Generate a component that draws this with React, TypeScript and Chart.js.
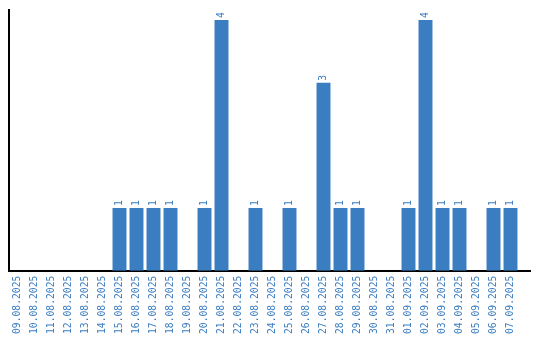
import React, { useEffect, useRef } from "react";
import { Chart, registerables } from "chart.js";

Chart.register(...registerables);

const categories = [
  "09.08.2025", "10.08.2025", "11.08.2025", "12.08.2025", "13.08.2025", "14.08.2025",
  "15.08.2025", "16.08.2025", "17.08.2025", "18.08.2025", "19.08.2025", "20.08.2025",
  "21.08.2025", "22.08.2025", "23.08.2025", "24.08.2025", "25.08.2025", "26.08.2025",
  "27.08.2025", "28.08.2025", "29.08.2025", "30.08.2025", "31.08.2025", "01.09.2025",
  "02.09.2025", "03.09.2025", "04.09.2025", "05.09.2025", "06.09.2025", "07.09.2025",
];
const values = [
  0, 0, 0, 0, 0, 0,
  1, 1, 1, 1, 0, 1,
  4, 0, 1, 0, 1, 0,
  3, 1, 1, 0, 0, 1,
  4, 1, 1, 0, 1, 1,
];

const BLUE = "#3b7dc1";
const FONT = "'DejaVu Sans Mono', monospace";
const AXIS_EXTRA = 12;

const valueLabels = {
  id: "valueLabels",
  afterDatasetsDraw(chart: any) {
    const ctx = chart.ctx;
    const meta = chart.getDatasetMeta(0);
    ctx.save();
    ctx.fillStyle = BLUE;
    ctx.font = `9.7px ${FONT}`;
    ctx.textAlign = "left";
    ctx.textBaseline = "middle";
    meta.data.forEach((bar: any, i: number) => {
      const v = values[i];
      if (!v) return;
      ctx.save();
      ctx.translate(bar.x, bar.y - 2);
      ctx.rotate(-Math.PI / 2);
      ctx.fillText(String(v), 0, 0);
      ctx.restore();
    });
    ctx.restore();
  },
};

const axisExtend = {
  id: "axisExtend",
  afterDraw(chart: any) {
    const { ctx, chartArea } = chart;
    ctx.save();
    ctx.strokeStyle = "#000";
    ctx.lineWidth = 2;
    ctx.beginPath();
    ctx.moveTo(chartArea.right - 1, Math.round(chartArea.bottom) + 0);
    ctx.lineTo(chartArea.right + AXIS_EXTRA, Math.round(chartArea.bottom) + 0);
    ctx.stroke();
    ctx.restore();
  },
};

export default function App() {
  const ref = useRef<HTMLCanvasElement>(null);
  useEffect(() => {
    document.body.style.margin = "0";
    const chart = new Chart(ref.current!, {
      type: "bar",
      data: {
        labels: categories,
        datasets: [
          {
            data: values,
            backgroundColor: BLUE,
            barPercentage: 0.82,
            categoryPercentage: 1,
          },
        ],
      },
      options: {
        responsive: false,
        animation: false,
        layout: { padding: { top: 10, right: 21, left: 9, bottom: 1 } },
        plugins: { legend: { display: false }, tooltip: { enabled: false } },
        scales: {
          x: {
            grid: { display: false, drawTicks: false },
            border: { display: true, color: "#000", width: 2 },
            ticks: {
              color: BLUE,
              font: { family: FONT, size: 9.7 },
              minRotation: 90,
              maxRotation: 90,
              autoSkip: false,
              padding: 5,
            },
          },
          y: {
            min: 0,
            max: 4.16,
            grid: { display: false, drawTicks: false },
            border: { display: true, color: "#000", width: 2 },
            ticks: { display: false },
          },
        },
      },
      plugins: [valueLabels, axisExtend],
    });
    return () => chart.destroy();
  }, []);
  return <canvas ref={ref} width={540} height={340} style={{ display: "block" }} />;
}
